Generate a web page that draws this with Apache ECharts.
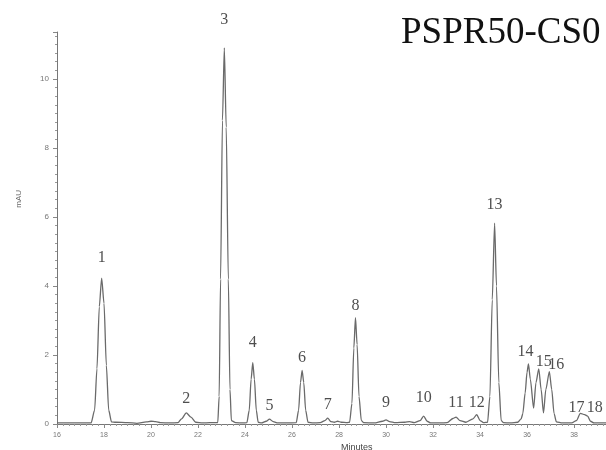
<!DOCTYPE html>
<html>
<head>
<meta charset="utf-8">
<script src="https://cdn.jsdelivr.net/npm/echarts@6/dist/echarts.min.js"></script>
<style>html,body{margin:0;padding:0;background:#fff;}#c{width:606px;height:450px;}</style>
</head>
<body>
<div id="c"></div>
<script>
// ---- data ----
var title = 'PSPR50-CS0';
var xName = 'Minutes';
var yName = 'mAU';
var xTicks = [16, 18, 20, 22, 24, 26, 28, 30, 32, 34, 36, 38];
var yTicks = [0, 2, 4, 6, 8, 10];
// chromatogram trace: retention time (min) and absorbance (mAU)
var traceTime = [16.0, 16.5, 17.0, 17.45, 17.6, 17.7, 17.8, 17.9, 18.0, 18.1, 18.2, 18.32,
  18.5, 19.0, 19.4, 19.8, 20.0, 20.2, 20.4, 20.8, 21.15, 21.3, 21.5, 21.7, 21.9, 22.2, 22.5, 22.84,
  22.9, 22.96, 23.04, 23.12, 23.2, 23.29, 23.36, 23.42, 23.6, 23.9, 24.08, 24.18, 24.26, 24.33, 24.4,
  24.48, 24.56, 24.7, 24.9, 25.04, 25.2, 25.4, 25.8, 26.18, 26.28, 26.36, 26.43, 26.5, 26.58, 26.68,
  26.9, 27.2, 27.4, 27.52, 27.65, 27.8, 27.94, 28.1, 28.35, 28.45, 28.55, 28.63, 28.7, 28.77, 28.85,
  28.95, 29.05, 29.5, 29.85, 30.0, 30.15, 30.4, 30.8, 31.0, 31.2, 31.45, 31.6, 31.75, 31.9, 32.3,
  32.6, 32.85, 32.98, 33.15, 33.4, 33.7, 33.86, 34.0, 34.15, 34.32, 34.42, 34.52, 34.62, 34.7, 34.8,
  34.9, 35.0, 35.3, 35.6, 35.75, 35.82, 35.92, 36.0, 36.06, 36.14, 36.28, 36.38, 36.5, 36.6, 36.7,
  36.8, 36.95, 37.05, 37.15, 37.25, 37.5, 37.9, 38.1, 38.27, 38.45, 38.58, 38.7, 38.85, 39.2, 39.4];
var traceValue = [0.03, 0.03, 0.03, 0.03, 0.4, 1.6, 3.4, 4.23, 3.5, 1.7, 0.4, 0.06,
  0.05, 0.04, 0.02, 0.06, 0.08, 0.07, 0.04, 0.03, 0.04, 0.15, 0.32, 0.2, 0.05, 0.03, 0.04, 0.04,
  0.8, 4.2, 8.8, 10.9, 8.6, 4.2, 1.0, 0.1, 0.04, 0.03, 0.04, 0.4, 1.3, 1.78, 1.3,
  0.4, 0.05, 0.03, 0.08, 0.14, 0.07, 0.03, 0.03, 0.04, 0.4, 1.2, 1.55, 1.2, 0.4, 0.05,
  0.03, 0.04, 0.1, 0.17, 0.07, 0.05, 0.08, 0.05, 0.04, 0.05, 0.6, 2.2, 3.08, 2.3, 0.8,
  0.1, 0.04, 0.03, 0.08, 0.12, 0.07, 0.04, 0.05, 0.07, 0.04, 0.1, 0.23, 0.08, 0.03, 0.03,
  0.04, 0.16, 0.2, 0.1, 0.05, 0.15, 0.27, 0.1, 0.04, 0.05, 0.8, 3.6, 5.82, 4.0, 1.2,
  0.1, 0.04, 0.03, 0.05, 0.15, 0.3, 0.9, 1.5, 1.74, 1.3, 0.46, 1.2, 1.6, 1.0, 0.32,
  1.0, 1.52, 1.0, 0.3, 0.06, 0.03, 0.03, 0.1, 0.31, 0.27, 0.23, 0.08, 0.03, 0.03, 0.03];
// peak annotations
var peakNames = ['1','2','3','4','5','6','7','8','9','10','11','12','13','14','15','16','17','18'];
var peakTime = [17.9, 21.5, 23.12, 24.33, 25.04, 26.43, 27.52, 28.7, 30.0, 31.6, 32.98, 33.86, 34.62, 36.06, 36.5, 36.95, 38.27, 38.58];
var peakHeight = [4.23, 0.32, 10.9, 1.78, 0.14, 1.55, 0.17, 3.08, 0.12, 0.23, 0.2, 0.27, 5.82, 1.74, 1.6, 1.52, 0.31, 0.23];

// ---- layout / style ----
var labelOffsets = [[0,-12],[0,-6],[0,-20],[0,-12],[0,-5],[0,-5],[0,-5],[0,-4],[0,-9],[0,-10],[0,-6],[0,-4],[0,-10],[-3,-4],[5,1],[7,1],[-4,2],[7,0]];

var trace = traceTime.map(function (t, i) { return [t, traceValue[i]]; });
var peaks = peakTime.map(function (t, i) {
  return {
    value: [t, peakHeight[i]],
    name: peakNames[i],
    label: { offset: labelOffsets[i] }
  };
});

var chart = echarts.init(document.getElementById('c'), null, { renderer: 'canvas' });
chart.setOption({
  animation: false,
  backgroundColor: '#fff',
  grid: { left: 57, right: 0, top: 32, bottom: 26 },
  graphic: [
    { type: 'text', left: 401, top: 15, style: { text: title, font: '37px "Liberation Serif", "Times New Roman", serif', fill: '#111' } },
    { type: 'text', left: 15, top: 190, rotation: Math.PI / 2, style: { text: yName, font: '8px "Liberation Sans", Arial, sans-serif', fill: '#666', textAlign: 'center', textVerticalAlign: 'middle' } },
    { type: 'text', left: 341, top: 443, style: { text: xName, font: '9px "Liberation Sans", Arial, sans-serif', fill: '#444' } }
  ],
  xAxis: {
    type: 'value', min: 16, max: 39.36, interval: 2,
    axisLine: { show: true, onZero: false, lineStyle: { color: '#777', width: 1 } },
    axisTick: { show: true, length: 4, lineStyle: { color: '#888' } },
    minorTick: { show: true, splitNumber: 8, length: 2, lineStyle: { color: '#999' } },
    splitLine: { show: false },
    axisLabel: { fontSize: 7, color: '#777', margin: 8, fontFamily: 'Liberation Sans',
      showMaxLabel: false,
      formatter: function (v) { return xTicks.indexOf(v) >= 0 ? String(v) : ''; } }
  },
  yAxis: {
    type: 'value', min: 0, max: 11.36, interval: 2,
    axisLine: { show: true, lineStyle: { color: '#777', width: 1 } },
    axisTick: { show: true, length: 4, lineStyle: { color: '#888' } },
    minorTick: { show: true, splitNumber: 8, length: 2, lineStyle: { color: '#999' } },
    splitLine: { show: false },
    axisLabel: { fontSize: 8, color: '#777', margin: 8, fontFamily: 'Liberation Sans',
      showMaxLabel: false,
      formatter: function (v) { return yTicks.indexOf(v) >= 0 ? String(v) : ''; } }
  },
  series: [
    {
      type: 'line', data: trace, symbol: 'none', smooth: 0.25, smoothMonotone: 'x',
      lineStyle: { color: '#6a6a6a', width: 1.3 }, z: 3
    },
    {
      type: 'scatter', data: peaks, symbolSize: 0, z: 4,
      label: { show: true, position: 'top', distance: 0, formatter: '{b}',
        fontFamily: '"Liberation Serif", "Times New Roman", serif', fontSize: 16, color: '#222' }
    }
  ]
});
</script>
</body>
</html>
